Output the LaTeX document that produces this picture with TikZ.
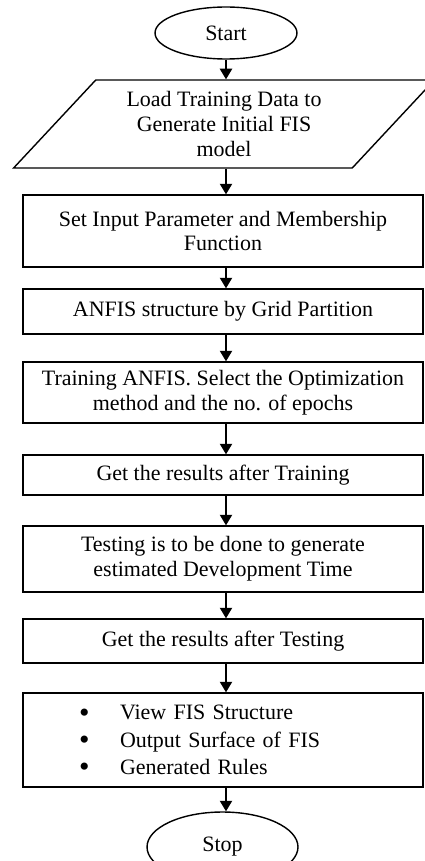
\documentclass[tikz,border=0pt]{standalone}
\usepackage{fontspec}
\setmainfont{Liberation Serif}
\usetikzlibrary{shapes.geometric,arrows.meta}
\newcommand{\itembul}{\makebox[1.94cm][l]{\hspace{1.12cm}\raisebox{-1.3pt}[0pt][0pt]{\fontsize{17}{0}\selectfont\textbullet}}}
\tikzset{
	stepbox/.style={draw, rectangle, minimum width=8cm, inner sep=0pt, align=center, line width=0.8pt},
	termbox/.style={draw, ellipse, inner sep=0pt, line width=0.8pt},
	flow/.style={-{Triangle[width=7pt,length=6pt]}, line width=0.8pt}
}

\begin{document}
\begin{tikzpicture}[x=0.02cm, y=-0.02cm, font=\fontsize{12.5}{14}\selectfont]
				\useasboundingbox (0,0) rectangle (425,861);
				
				\node[termbox, minimum width=2.84cm, minimum height=1.04cm] (start) at (226,33) {Start};
				\node[draw, trapezium, trapezium left angle=46, trapezium right angle=134, trapezium stretches=true,
					minimum width=8.44cm, minimum height=1.76cm, inner sep=0pt, align=center, line width=0.8pt]
					(load) at (224,124) {Load Training Data to\\Generate Initial FIS\\model};
				
				\node[stepbox, minimum height=1.44cm] (setin) at (223,231) {Set Input Parameter and Membership\\Function};
				\node[stepbox, minimum height=0.9cm] (grid) at (223,311.5) {ANFIS structure by Grid Partition};
				\node[stepbox, minimum height=1.22cm] (train) at (223,392.5) {Training ANFIS. Select the Optimization\\method and the no. of epochs};
				\node[stepbox, minimum height=0.8cm] (restrain) at (223,475) {Get the results after Training};
				\node[stepbox, minimum height=1.32cm] (test) at (223,559) {Testing is to be done to generate\\estimated Development Time};
				\node[stepbox, minimum height=0.88cm] (restest) at (223,641) {Get the results after Testing};
				\node[stepbox, minimum height=1.88cm, text width=8cm, align=left, font=\fontsize{12.5}{15.6}\selectfont]
					(view) at (223,740) {\itembul View FIS Structure\\\itembul Output Surface of FIS\\\itembul Generated Rules};
				
				\node[termbox, minimum width=3.02cm, minimum height=1.4cm] (stop) at (222.5,847) {Stop};
				
				\foreach \a/\b in {start/load, load/setin, setin/grid, grid/train, train/restrain, restrain/test, test/restest, restest/view, view/stop}
					\draw[flow] (\a.south -| start) -- (\b.north -| start);
\end{tikzpicture}
\end{document}
